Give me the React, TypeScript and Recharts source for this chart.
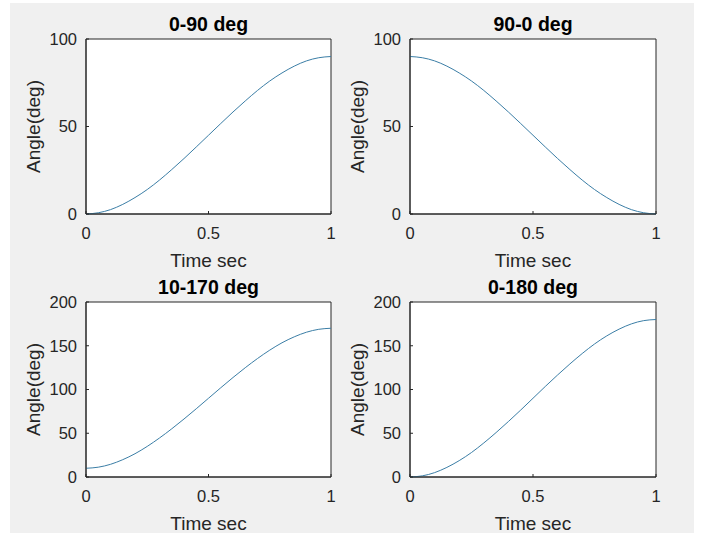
import React from 'react';
import { LineChart, Line, XAxis, YAxis, Label, ReferenceArea } from 'recharts';

// sample times (s) and angles (deg)
const time = [0, 0.05, 0.1, 0.15, 0.2, 0.25, 0.3, 0.35, 0.4, 0.45, 0.5, 0.55, 0.6, 0.65, 0.7, 0.75, 0.8, 0.85, 0.9, 0.95, 1];
const angle0to90 = [0, 0.7, 2.5, 5.5, 9.4, 14, 19.4, 25.4, 31.7, 38.3, 45, 51.7, 58.3, 64.6, 70.6, 76, 80.6, 84.5, 87.5, 89.3, 90];
const angle90to0 = [90, 89.3, 87.5, 84.5, 80.6, 76, 70.6, 64.6, 58.3, 51.7, 45, 38.3, 31.7, 25.4, 19.4, 14, 9.4, 5.5, 2.5, 0.7, 0];
const angle10to170 = [10, 11.2, 14.5, 19.8, 26.6, 35, 44.6, 55.1, 66.3, 78, 90, 102, 113.7, 124.9, 135.4, 145, 153.4, 160.2, 165.5, 168.8, 170];
const angle0to180 = [0, 1.3, 5, 11, 18.7, 28, 38.9, 50.8, 63.4, 76.5, 90, 103.5, 116.6, 129.2, 141.1, 152, 161.3, 169, 175, 178.7, 180];

const titles = ['0-90 deg', '90-0 deg', '10-170 deg', '0-180 deg'];
const xTicks = [0, 0.5, 1];
const yTicksSmall = [0, 50, 100];
const yTicksLarge = [0, 50, 100, 150, 200];

const FONT = '"Liberation Sans", Arial, sans-serif';
const INK = '#262626';
const CURVE = '#3b7ea6';
const XH = 50;
const YW = 50;

interface Box { left: number; top: number; width: number; height: number }
interface Plot { x: number; y: number; w: number; h: number }

interface PanelProps {
    title: string;
    values: number[];
    yMax: number;
    yTicks: number[];
    box: Box;
    plot: Plot;
}

const Panel: React.FC<PanelProps> = ({ title, values, yMax, yTicks, box, plot }) => {
    const data = time.map((t, i) => ({ t, v: values[i] }));
    const margin = {
        top: plot.y - box.top,
        left: plot.x - box.left - YW,
        right: box.left + box.width - (plot.x + plot.w),
        bottom: box.top + box.height - (plot.y + plot.h) - XH,
    };
    const tickStyle = { fontSize: 16.5, fill: INK, fontFamily: FONT };
    const axisLine = { stroke: INK, strokeWidth: 1 };

    return (
        <div style={{ position: 'absolute', left: box.left, top: box.top }}>
            <LineChart width={box.width} height={box.height} data={data} margin={margin}>
                <XAxis
                    dataKey="t"
                    type="number"
                    domain={[0, 1]}
                    ticks={xTicks}
                    height={XH}
                    tickSize={-3}
                    tickMargin={16}
                    axisLine={axisLine}
                    tickLine={axisLine}
                    tick={tickStyle}
                    interval={0}
                >
                    <Label
                        content={(p: any) => {
                            const vb = p.viewBox;
                            return (
                                <text x={vb.x + vb.width / 2} y={vb.y + 53} textAnchor="middle"
                                    fontSize={19} fill={INK} fontFamily={FONT}>Time sec</text>
                            );
                        }}
                    />
                </XAxis>
                <YAxis
                    type="number"
                    domain={[0, yMax]}
                    ticks={yTicks}
                    width={YW}
                    tickSize={-3}
                    tickMargin={12}
                    axisLine={axisLine}
                    tickLine={axisLine}
                    tick={tickStyle}
                    interval={0}
                >
                    <Label
                        content={(p: any) => {
                            const vb = p.viewBox;
                            const lx = vb.x + vb.width - 46;
                            const ly = vb.y + vb.height / 2;
                            return (
                                <text x={lx} y={ly} transform={`rotate(-90, ${lx}, ${ly})`} textAnchor="middle"
                                    fontSize={19} fill={INK} fontFamily={FONT}>Angle(deg)</text>
                            );
                        }}
                    />
                </YAxis>
                <ReferenceArea
                    x1={0}
                    x2={1}
                    y1={0}
                    y2={yMax}
                    fill="none"
                    stroke={INK}
                    strokeWidth={1}
                    fillOpacity={0}
                    ifOverflow="visible"
                    label={(p: any) => {
                        const vb = p.viewBox;
                        return (
                            <text x={vb.x + vb.width / 2} y={vb.y - 8.5} textAnchor="middle"
                                fontSize={19.5} fontWeight="bold" fill="#000" fontFamily={FONT}>{title}</text>
                        );
                    }}
                />
                <Line
                    type="monotone"
                    dataKey="v"
                    stroke={CURVE}
                    strokeWidth={1}
                    dot={false}
                    isAnimationActive={false}
                />
            </LineChart>
        </div>
    );
};

export default function App() {
    return (
        <div style={{ position: 'absolute', left: 0, top: 0, width: 703, height: 533, background: '#fff', overflow: 'hidden' }}>
            <div style={{ position: 'absolute', left: 10, top: 3, width: 684, height: 530, background: '#f0f0f0' }} />
            <div style={{ position: 'absolute', left: 86, top: 39, width: 245, height: 175, background: '#fff' }} />
            <div style={{ position: 'absolute', left: 410, top: 39, width: 246, height: 175, background: '#fff' }} />
            <div style={{ position: 'absolute', left: 86, top: 302, width: 245, height: 175, background: '#fff' }} />
            <div style={{ position: 'absolute', left: 410, top: 302, width: 246, height: 175, background: '#fff' }} />
            <Panel title={titles[0]} values={angle0to90} yMax={100} yTicks={yTicksSmall}
                box={{ left: 0, top: 0, width: 345, height: 270 }} plot={{ x: 86, y: 39, w: 245, h: 175 }} />
            <Panel title={titles[1]} values={angle90to0} yMax={100} yTicks={yTicksSmall}
                box={{ left: 340, top: 0, width: 363, height: 270 }} plot={{ x: 410, y: 39, w: 246, h: 175 }} />
            <Panel title={titles[2]} values={angle10to170} yMax={200} yTicks={yTicksLarge}
                box={{ left: 0, top: 265, width: 345, height: 268 }} plot={{ x: 86, y: 302, w: 245, h: 175 }} />
            <Panel title={titles[3]} values={angle0to180} yMax={200} yTicks={yTicksLarge}
                box={{ left: 340, top: 265, width: 363, height: 268 }} plot={{ x: 410, y: 302, w: 246, h: 175 }} />
        </div>
    );
}
